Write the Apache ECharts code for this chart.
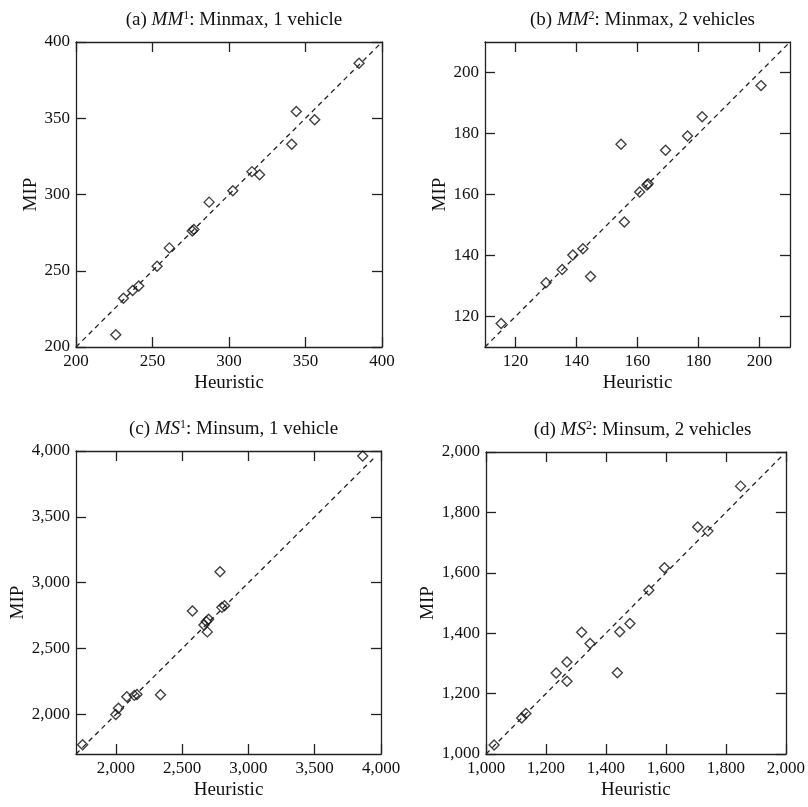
<!DOCTYPE html>
<html>
<head>
<meta charset="utf-8">
<script src="https://cdn.jsdelivr.net/npm/echarts@6/dist/echarts.min.js"></script>
<style>
html,body{margin:0;padding:0;background:#fff;}
#chart{width:808px;height:807px;}
</style>
</head>
<body>
<div id="chart"></div>
<script>
// ---------- DATA ----------
const titleA = '(a) {i|MM}{sup|1}: Minmax, 1 vehicle';
const titleB = '(b) {i|MM}{sup|2}: Minmax, 2 vehicles';
const titleC = '(c) {i|MS}{sup|1}: Minsum, 1 vehicle';
const titleD = '(d) {i|MS}{sup|2}: Minsum, 2 vehicles';
const xName = 'Heuristic';
const yName = 'MIP';

// (a) MM1
const aHeur = [226, 231, 237, 241, 253, 261, 276, 277, 287, 302.5, 315, 320, 341, 344, 356, 385];
const aMip  = [208, 232, 237, 240, 253, 265, 276, 277, 295, 302.5, 315, 313, 333, 354.5, 349, 386];
const aRange = [200, 400];
const aTicks = [200, 250, 300, 350, 400];
const aDiag = [200, 400];

// (b) MM2
const bHeur = [115.3, 130, 135.3, 138.8, 142.1, 144.6, 154.6, 155.7, 160.7, 163.1, 163.5, 169.2, 176.4, 181.2, 200.5];
const bMip  = [117.7, 131.1, 135.4, 140.2, 142.2, 133.1, 176.5, 151.0, 160.8, 163.1, 163.5, 174.5, 179.2, 185.5, 195.7];
const bRange = [110, 210];
const bTicks = [120, 140, 160, 180, 200];
const bDiag = [110, 210];

// (c) MS1
const cHeur = [1750, 2000, 2020, 2083, 2140, 2160, 2337, 2578, 2665, 2683, 2700, 2690, 2800, 2820, 2786, 3862];
const cMip  = [1770, 2000, 2048, 2134, 2145, 2152, 2149, 2785, 2680, 2705, 2722, 2627, 2813, 2825, 3083, 3962];
const cRange = [1700, 4000];
const cTicks = [2000, 2500, 3000, 3500, 4000];
const cDiag = [1700, 3960];

// (d) MS2
const dHeur = [1027, 1119, 1133, 1234, 1270, 1270, 1319, 1347, 1438, 1446, 1480, 1543, 1595, 1706, 1740, 1849];
const dMip  = [1030, 1119, 1134, 1268, 1305, 1241, 1403, 1366, 1269, 1405, 1432, 1542, 1617, 1752, 1738, 1887];
const dRange = [1000, 2000];
const dTicks = [1000, 1200, 1400, 1600, 1800, 2000];
const dDiag = [1000, 1990];

// ---------- CHART ----------
const FONT = '"Liberation Serif", "Times New Roman", serif';
const AXC = '#222';
const fmtComma = v => Number(v).toLocaleString('en-US');
const fmtPlain = v => String(v);

const panels = [
  {title: titleA, heur: aHeur, mip: aMip, range: aRange, ticks: aTicks, diag: aDiag, fmt: fmtPlain,
   grid: {left: 76, top: 42, width: 306, height: 305}},
  {title: titleB, heur: bHeur, mip: bMip, range: bRange, ticks: bTicks, diag: bDiag, fmt: fmtPlain,
   grid: {left: 485, top: 42, width: 305, height: 305}},
  {title: titleC, heur: cHeur, mip: cMip, range: cRange, ticks: cTicks, diag: cDiag, fmt: fmtComma,
   grid: {left: 76, top: 451, width: 305, height: 303}},
  {title: titleD, heur: dHeur, mip: dMip, range: dRange, ticks: dTicks, diag: dDiag, fmt: fmtComma,
   grid: {left: 486, top: 452, width: 303, height: 302}}
];

const grids = [], xAxes = [], yAxes = [], series = [], titles = [];

panels.forEach((p, i) => {
  grids.push(Object.assign({containLabel: false}, p.grid));
  const common = {
    type: 'value', gridIndex: i, min: p.range[0], max: p.range[1],
    splitLine: {show: false},
    axisLine: {show: true, onZero: false, lineStyle: {color: AXC, width: 1.3}},
    axisTick: {show: true, inside: true, length: 10, customValues: p.ticks, lineStyle: {color: AXC, width: 1.3}},
    axisLabel: {show: true, customValues: p.ticks, formatter: p.fmt, fontFamily: FONT, fontSize: 17, color: '#111', margin: 6}
  };
  xAxes.push(Object.assign({}, common, {
    position: 'bottom', name: xName, nameLocation: 'middle', nameGap: 27,
    nameTextStyle: {fontFamily: FONT, fontSize: 19, color: '#111'}
  }));
  xAxes.push(Object.assign({}, common, {position: 'top', axisLabel: {show: false, customValues: p.ticks}}));
  yAxes.push(Object.assign({}, common, {
    position: 'left', name: yName, nameLocation: 'middle', nameGap: 35,
    nameTextStyle: {fontFamily: FONT, fontSize: 19, color: '#111'}
  }));
  yAxes.push(Object.assign({}, common, {position: 'right', axisLabel: {show: false, customValues: p.ticks}}));

  series.push({
    type: 'line', xAxisIndex: 2 * i, yAxisIndex: 2 * i,
    data: [[p.diag[0], p.diag[0]], [p.diag[1], p.diag[1]]],
    symbol: 'none', silent: true,
    lineStyle: {color: '#222', width: 1.3, type: [5, 4]}
  });
  series.push({
    type: 'scatter', xAxisIndex: 2 * i, yAxisIndex: 2 * i,
    data: p.heur.map((h, k) => [h, p.mip[k]]),
    symbol: 'diamond', symbolSize: 10,
    itemStyle: {color: 'rgba(255,255,255,0)', borderColor: '#111', borderWidth: 1.4}
  });

  titles.push({
    text: p.title,
    left: p.grid.left + p.grid.width / 2,
    top: p.grid.top - 37,
    textAlign: 'center',
    textStyle: {
      fontFamily: FONT, fontSize: 19, fontWeight: 'normal', color: '#111',
      rich: {
        i: {fontFamily: FONT, fontSize: 19, fontStyle: 'italic', color: '#111'},
        sup: {fontFamily: FONT, fontSize: 12, color: '#111', verticalAlign: 'bottom', padding: [0, 0, 8, 0]}
      }
    }
  });
});

const chart = echarts.init(document.getElementById('chart'), null, {renderer: 'canvas'});
chart.setOption({
  animation: false,
  backgroundColor: '#fff',
  title: titles,
  grid: grids,
  xAxis: xAxes,
  yAxis: yAxes,
  series: series
});
</script>
</body>
</html>
